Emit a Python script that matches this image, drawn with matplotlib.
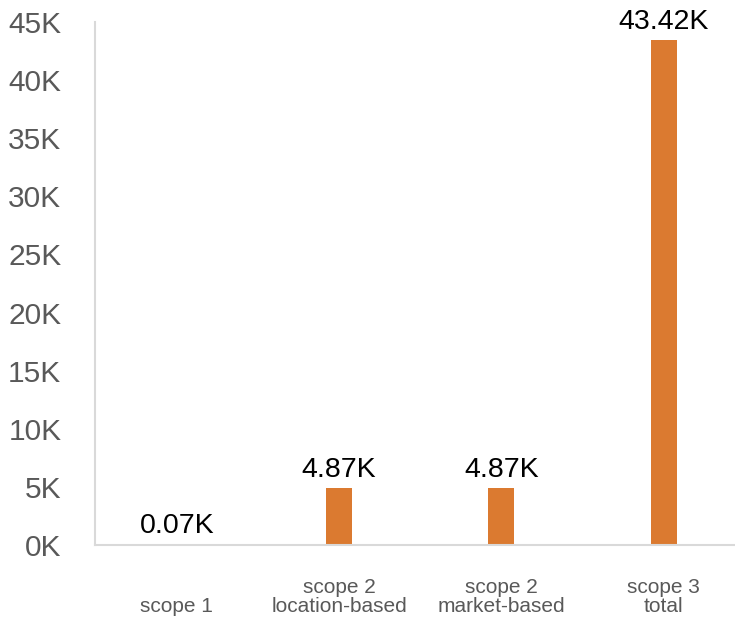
import matplotlib.pyplot as plt

categories = ["scope 1", "scope 2\nlocation-based", "scope 2\nmarket-based", "scope 3\ntotal"]
values = [70, 4870, 4870, 43420]
bar_labels = ["0.07K", "4.87K", "4.87K", "43.42K"]
yticks = [0, 5000, 10000, 15000, 20000, 25000, 30000, 35000, 40000, 45000]
ytick_labels = ["0K", "5K", "10K", "15K", "20K", "25K", "30K", "35K", "40K", "45K"]

plt.rcParams['font.family'] = ['Liberation Sans', 'DejaVu Sans']

fig = plt.figure(figsize=(7.35, 6.23), dpi=100)
ax = fig.add_axes([0.129, 0.125, 0.871, 0.84])

x = range(len(categories))
ax.bar(x, values, width=0.16, color='#db7a30')
for xi, v, lab in zip(x, values, bar_labels):
    ax.text(xi, v + 450, lab, ha='center', va='bottom', fontsize=20.5, color='black')

ax.set_xlim(-0.505, 3.44)
ax.set_ylim(0, 45000)
ax.set_yticks(yticks)
ax.set_yticklabels(ytick_labels, fontsize=21.5, color='#595959')
ax.set_xticks(list(x))
ax.set_xticklabels([c if "\n" in c else "\n" + c for c in categories],
                   fontsize=15, color='#595959', linespacing=1.0)
ax.tick_params(axis='y', length=0, pad=24)
ax.tick_params(axis='x', length=0, pad=24)

for s in ['top', 'right']:
    ax.spines[s].set_visible(False)
ax.spines['left'].set_color('#d9d9d9')
ax.spines['bottom'].set_color('#d9d9d9')
ax.spines['left'].set_linewidth(1.5)
ax.spines['bottom'].set_linewidth(1.5)

fig.savefig('out.png', dpi=100)
